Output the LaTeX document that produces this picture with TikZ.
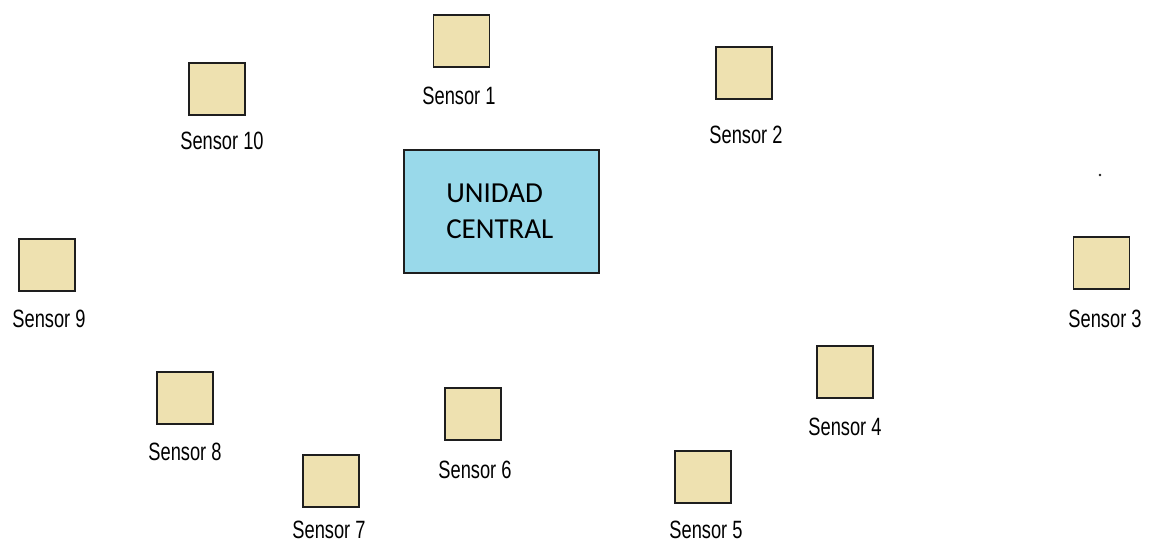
\documentclass[tikz,border=0pt]{standalone}
\usepackage{fontspec}
\setmainfont{Liberation Sans}
\newfontfamily\sensorfont[FakeStretch=0.73]{Liberation Sans}
\newfontfamily\centralfont{Carlito}
\definecolor{sensorfill}{RGB}{238, 225, 176}
\definecolor{centralfill}{RGB}{153, 217, 234}
\definecolor{boxline}{RGB}{30, 30, 30}
\usetikzlibrary{positioning}

\begin{document}
\begin{tikzpicture}[x=0.025cm, y=-0.025cm,
    sensor/.style={rectangle, draw=boxline, line width=0.9pt, fill=sensorfill, minimum width=1.4cm, minimum height=1.3cm, inner sep=0pt},
    central/.style={rectangle, draw=boxline, line width=1.1pt, fill=centralfill, minimum width=4.875cm, minimum height=3.075cm, inner sep=0pt},
    tag/.style={anchor=base, inner sep=0pt, font=\sensorfont\fontsize{17.8}{20}\selectfont}
]
\useasboundingbox (0,0) rectangle (1154,542);

% === Unidad central ===
\node[central] (uc) at (501.5, 211.5) {};
\node[anchor=base west, inner sep=0pt, align=left, font=\centralfont\fontsize{20.6}{25.6}\selectfont] (uctext) at (446, 238) {UNIDAD\\CENTRAL};

% === Sensores: caja y etiqueta ===
\foreach \i/\bx/\by/\lx/\ly in {1/461.5/41/459/104, 2/744/73/746/143, 3/1101.5/263/1105/327,
    4/845/372/845/435, 5/703/477/706/538, 6/473/414/475/478, 7/331/481/329/538,
    8/185/398/185/460, 9/47/265/49/327, 10/217/89/222/149} {
    \node[sensor] (s\i) at (\bx, \by) {};
    \node[tag] (l\i) at (\lx, \ly) {Sensor \i};
}

% punto suelto
\fill[boxline] (1100, 175) circle (1.4);

\end{tikzpicture}
\end{document}
